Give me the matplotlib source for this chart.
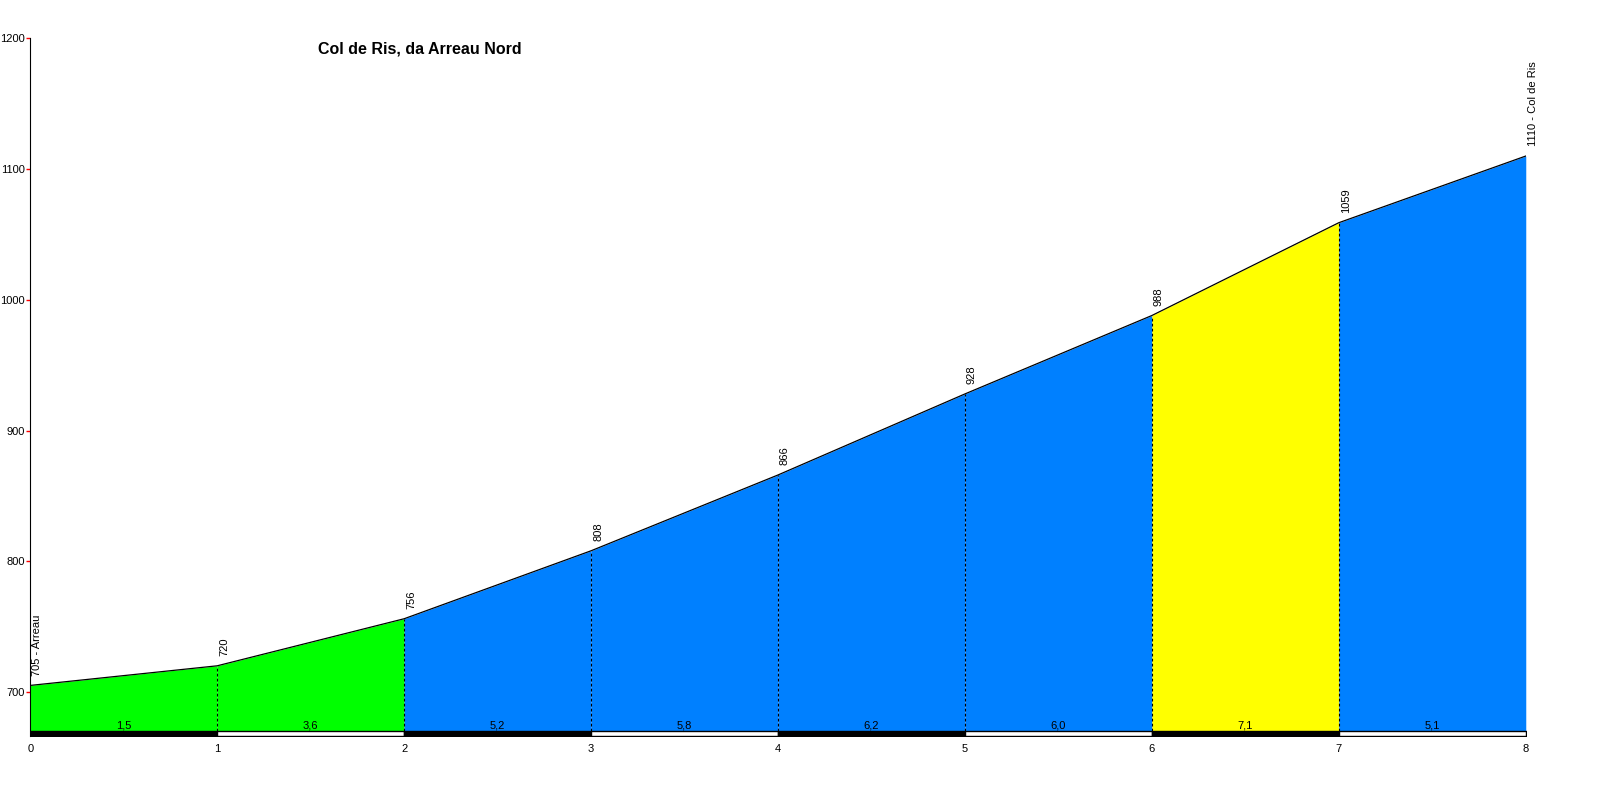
import matplotlib
matplotlib.use("Agg")
from matplotlib import pyplot as plt

plt.rcParams['font.family'] = ['Liberation Sans', 'DejaVu Sans']

title = "Col de Ris, da Arreau Nord"
km = [0, 1, 2, 3, 4, 5, 6, 7, 8]
elevation = [705, 720, 756, 808, 866, 928, 988, 1059, 1110]
gradient = ["1,5", "3,6", "5,2", "5,8", "6,2", "6,0", "7,1", "5,1"]
segment_colors = ["#00FF00", "#00FF00", "#0080FF", "#0080FF",
                  "#0080FF", "#0080FF", "#FFFF00", "#0080FF"]
start_name = "Arreau"
end_name = "Col de Ris"

y_bottom = 666.3
strip_top = 670.2

fig = plt.figure(figsize=(16, 8), dpi=100)
ax = fig.add_axes([0.0189, 0.08, 0.9347, 0.872])
ax.set_xlim(km[0], km[-1])
ax.set_ylim(y_bottom, 1200)

# coloured segments
for i in range(len(km) - 1):
    ax.fill_between(km[i:i + 2], strip_top, elevation[i:i + 2],
                    color=segment_colors[i], linewidth=0)
    # black / white strip at the bottom
    ax.fill_between(km[i:i + 2], y_bottom, strip_top,
                    color="black" if i % 2 == 0 else "white",
                    edgecolor="black", linewidth=1)
    ax.text((km[i] + km[i + 1]) / 2, strip_top + 0.6, gradient[i],
            ha="center", va="bottom", fontsize=8)

ax.plot(km, elevation, color="black", linewidth=0.9)

for i in range(1, len(km) - 1):
    ax.plot([km[i], km[i]], [strip_top, elevation[i]], color="black",
            linestyle=(0, (2.5, 2)), linewidth=0.8)

# elevation labels
for i, (k, e) in enumerate(zip(km, elevation)):
    label = str(e)
    if i == 0:
        label = f"{e} - {start_name}"
    elif i == len(km) - 1:
        label = f"{e} - {end_name}"
    ax.annotate(label, (k, e), xytext=(5, 7), textcoords="offset points",
                rotation=90, ha="center", va="bottom", fontsize=8)

ax.text(420 / 1600, 1 - 49 / 800, title, transform=fig.transFigure,
        ha="center", va="center", fontsize=11.5, fontweight="bold")

for s in ["top", "right", "bottom"]:
    ax.spines[s].set_visible(False)
ax.spines["left"].set_linewidth(0.8)

ax.set_xticks(km)
ax.set_xticklabels([str(k) for k in km])
ax.tick_params(axis="x", length=0, labelsize=8, pad=6)
ax.set_yticks([700, 800, 900, 1000, 1100, 1200])
ax.tick_params(axis="y", length=3, color="red", width=1, labelsize=8, pad=1)

fig.savefig("out.png", dpi=100, facecolor="white")
